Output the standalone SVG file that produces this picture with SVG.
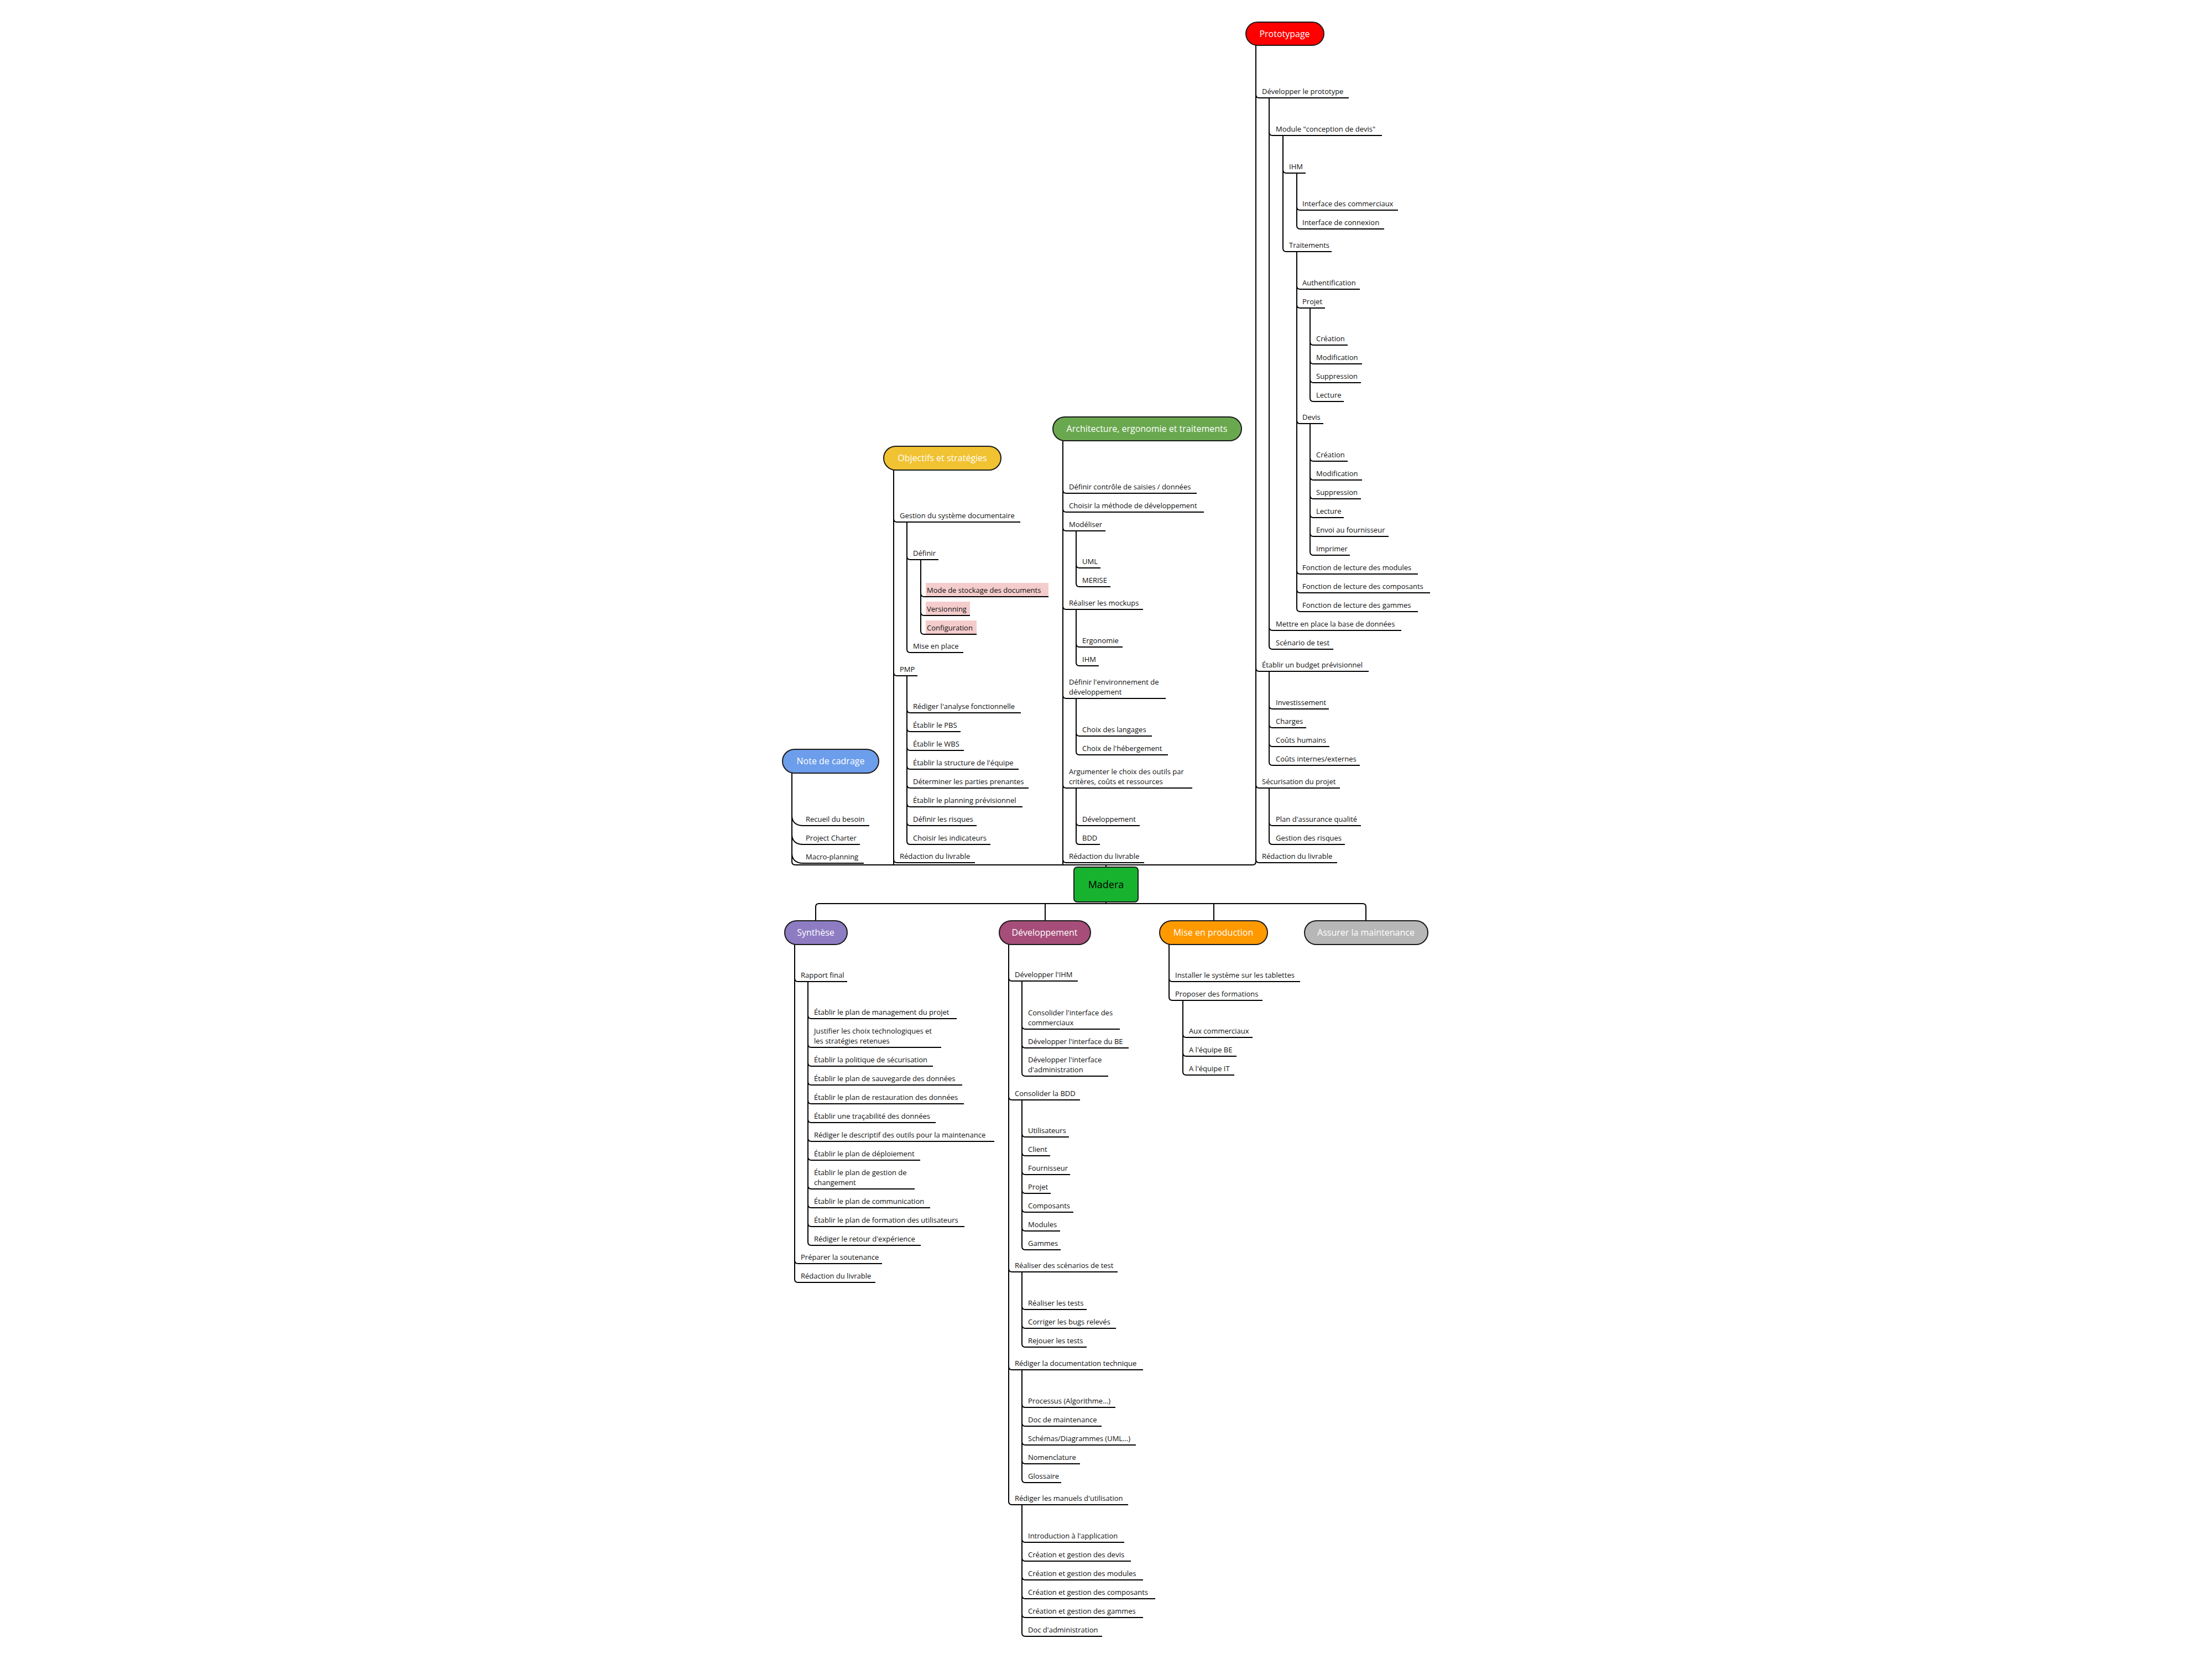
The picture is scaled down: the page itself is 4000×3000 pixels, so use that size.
<svg xmlns="http://www.w3.org/2000/svg" width="4000" height="3000" viewBox="0 0 4000 3000">
<style>
.c{fill:none;stroke:#000;stroke-width:2;stroke-linejoin:round}
.l text{font-family:"Open Sans","Noto Sans","DejaVu Sans",sans-serif;font-size:13px;fill:#111}
.l path{fill:none;stroke:#000;stroke-width:2.2}
.b rect{stroke:#1a1a1a;stroke-width:2}
.b text{font-family:"Open Sans","Noto Sans","DejaVu Sans",sans-serif;font-size:16px;fill:#fff;text-anchor:middle}
.hl{fill:#f4cccc}
</style>
<rect width="4000" height="3000" fill="#fff"/>
<g id="connectors" class="c">
<path d="M1432 1398V1558Q1432 1564 1438 1564H2265Q2271 1564 2271 1558V82M1616 850V1564M1922 797V1564M2000 1564V1568"/>
<path d="M2000 1631V1634M1475 1665V1640Q1475 1634 1481 1634H2464Q2470 1634 2470 1640V1665M1890 1634V1665M2195 1634V1665"/>
<path d="M2271 171Q2271 177 2277 177M2271 1208Q2271 1214 2277 1214M2271 1419Q2271 1425 2277 1425M2271 1554Q2271 1560 2277 1560"/>
<path d="M2295 177V1168Q2295 1174 2301 1174M2295 239Q2295 245 2301 245M2295 1134Q2295 1140 2301 1140"/>
<path d="M2320 245V449Q2320 455 2326 455M2320 307Q2320 313 2326 313"/>
<path d="M2345 313V408Q2345 414 2351 414M2345 374Q2345 380 2351 380"/>
<path d="M2345 455V1100Q2345 1106 2351 1106M2345 517Q2345 523 2351 523M2345 551Q2345 557 2351 557M2345 760Q2345 766 2351 766M2345 1032Q2345 1038 2351 1038M2345 1066Q2345 1072 2351 1072"/>
<path d="M2369 557V720Q2369 726 2375 726M2369 618Q2369 624 2375 624M2369 652Q2369 658 2375 658M2369 686Q2369 692 2375 692"/>
<path d="M2369 766V998Q2369 1004 2375 1004M2369 828Q2369 834 2375 834M2369 862Q2369 868 2375 868M2369 896Q2369 902 2375 902M2369 930Q2369 936 2375 936M2369 964Q2369 970 2375 970"/>
<path d="M2295 1214V1378Q2295 1384 2301 1384M2295 1276Q2295 1282 2301 1282M2295 1310Q2295 1316 2301 1316M2295 1344Q2295 1350 2301 1350"/>
<path d="M2295 1425V1521Q2295 1527 2301 1527M2295 1487Q2295 1493 2301 1493"/>
<path d="M1922 886Q1922 892 1928 892M1922 920Q1922 926 1928 926M1922 954Q1922 960 1928 960M1922 1096Q1922 1102 1928 1102M1922 1257Q1922 1263 1928 1263M1922 1419Q1922 1425 1928 1425M1922 1554Q1922 1560 1928 1560"/>
<path d="M1946 960V1055Q1946 1061 1952 1061M1946 1021Q1946 1027 1952 1027"/>
<path d="M1946 1102V1198Q1946 1204 1952 1204M1946 1164Q1946 1170 1952 1170"/>
<path d="M1946 1263V1359Q1946 1365 1952 1365M1946 1325Q1946 1331 1952 1331"/>
<path d="M1946 1425V1521Q1946 1527 1952 1527M1946 1487Q1946 1493 1952 1493"/>
<path d="M1616 938Q1616 944 1622 944M1616 1216Q1616 1222 1622 1222M1616 1554Q1616 1560 1622 1560"/>
<path d="M1640 944V1174Q1640 1180 1646 1180M1640 1006Q1640 1012 1646 1012"/>
<path d="M1665 1012V1141Q1665 1147 1671 1147M1665 1073Q1665 1079 1671 1079M1665 1107Q1665 1113 1671 1113"/>
<path d="M1640 1222V1521Q1640 1527 1646 1527M1640 1283Q1640 1289 1646 1289M1640 1317Q1640 1323 1646 1323M1640 1351Q1640 1357 1646 1357M1640 1385Q1640 1391 1646 1391M1640 1419Q1640 1425 1646 1425M1640 1453Q1640 1459 1646 1459M1640 1487Q1640 1493 1646 1493"/>
<path d="M1432 1475C1432 1487 1440 1493 1452 1493M1432 1509C1432 1521 1440 1527 1452 1527M1432 1543C1432 1555 1440 1561 1452 1561"/>
<path d="M1437 1708V2313Q1437 2319 1443 2319M1437 1769Q1437 1775 1443 1775M1437 2279Q1437 2285 1443 2285"/>
<path d="M1461 1775V2246Q1461 2252 1467 2252M1461 1836Q1461 1842 1467 1842M1461 1888Q1461 1894 1467 1894M1461 1922Q1461 1928 1467 1928M1461 1956Q1461 1962 1467 1962M1461 1990Q1461 1996 1467 1996M1461 2024Q1461 2030 1467 2030M1461 2058Q1461 2064 1467 2064M1461 2092Q1461 2098 1467 2098M1461 2144Q1461 2150 1467 2150M1461 2178Q1461 2184 1467 2184M1461 2212Q1461 2218 1467 2218"/>
<path d="M1824 1708V2715Q1824 2721 1830 2721M1824 1768Q1824 1774 1830 1774M1824 1983Q1824 1989 1830 1989M1824 2294Q1824 2300 1830 2300M1824 2471Q1824 2477 1830 2477"/>
<path d="M1848 1774V1940Q1848 1946 1854 1946M1848 1855Q1848 1861 1854 1861M1848 1889Q1848 1895 1854 1895"/>
<path d="M1848 1989V2254Q1848 2260 1854 2260M1848 2050Q1848 2056 1854 2056M1848 2084Q1848 2090 1854 2090M1848 2118Q1848 2124 1854 2124M1848 2152Q1848 2158 1854 2158M1848 2186Q1848 2192 1854 2192M1848 2220Q1848 2226 1854 2226"/>
<path d="M1848 2300V2430Q1848 2436 1854 2436M1848 2362Q1848 2368 1854 2368M1848 2396Q1848 2402 1854 2402"/>
<path d="M1848 2477V2675Q1848 2681 1854 2681M1848 2539Q1848 2545 1854 2545M1848 2573Q1848 2579 1854 2579M1848 2607Q1848 2613 1854 2613M1848 2641Q1848 2647 1854 2647"/>
<path d="M1848 2721V2953Q1848 2959 1854 2959M1848 2783Q1848 2789 1854 2789M1848 2817Q1848 2823 1854 2823M1848 2851Q1848 2857 1854 2857M1848 2885Q1848 2891 1854 2891M1848 2919Q1848 2925 1854 2925"/>
<path d="M2114 1708V1803Q2114 1809 2120 1809M2114 1769Q2114 1775 2120 1775"/>
<path d="M2139 1809V1938Q2139 1944 2145 1944M2139 1870Q2139 1876 2145 1876M2139 1904Q2139 1910 2145 1910"/>
</g>
<g id="madera" class="b"><rect x="1942" y="1568" width="116" height="63" rx="6" fill="#17b32f"/><text x="2000" y="1606" style="fill:#000;font-size:18px">Madera</text></g>
<g id="prototypage" class="b"><rect x="2253" y="40" width="141" height="42" rx="21" fill="#ff0000"/><text x="2323" y="67">Prototypage</text></g>
<g id="architecture" class="b"><rect x="1904" y="754" width="341" height="43" rx="21.5" fill="#6aa84f"/><text x="2074" y="781">Architecture, ergonomie et traitements</text></g>
<g id="objectifs" class="b"><rect x="1598" y="807" width="212" height="43" rx="21.5" fill="#f1c232"/><text x="1704" y="834">Objectifs et stratégies</text></g>
<g id="note" class="b"><rect x="1415" y="1355" width="174" height="43" rx="21.5" fill="#6d9eeb"/><text x="1502" y="1382">Note de cadrage</text></g>
<g id="synthese" class="b"><rect x="1419" y="1665" width="113" height="43" rx="21.5" fill="#8e7cc3"/><text x="1475" y="1692">Synthèse</text></g>
<g id="developpement" class="b"><rect x="1807" y="1665" width="165" height="43" rx="21.5" fill="#a64d79"/><text x="1889" y="1692">Développement</text></g>
<g id="production" class="b"><rect x="2097" y="1665" width="195" height="43" rx="21.5" fill="#ff9900"/><text x="2194" y="1692">Mise en production</text></g>
<g id="maintenance" class="b"><rect x="2359" y="1665" width="223" height="43" rx="21.5" fill="#b7b7b7"/><text x="2470" y="1692">Assurer la maintenance</text></g>

<g id="p1" class="l"><text x="2282" y="170">Développer le prototype</text><path d="M2277 177H2439"/></g>
<g id="p2" class="l"><text x="2307" y="238">Module "conception de devis"</text><path d="M2301 245H2499"/></g>
<g id="p3" class="l"><text x="2331" y="306">IHM</text><path d="M2326 313H2361"/></g>
<g id="p4" class="l"><text x="2355" y="373">Interface des commerciaux</text><path d="M2351 380H2528"/></g>
<g id="p5" class="l"><text x="2355" y="407">Interface de connexion</text><path d="M2351 414H2503"/></g>
<g id="p6" class="l"><text x="2331" y="448">Traitements</text><path d="M2326 455H2408"/></g>
<g id="p7" class="l"><text x="2355" y="516">Authentification</text><path d="M2351 523H2459"/></g>
<g id="p8" class="l"><text x="2355" y="550">Projet</text><path d="M2351 557H2396"/></g>
<g id="p9" class="l"><text x="2380" y="617">Création</text><path d="M2375 624H2437"/></g>
<g id="p10" class="l"><text x="2380" y="651">Modification</text><path d="M2375 658H2463"/></g>
<g id="p11" class="l"><text x="2380" y="685">Suppression</text><path d="M2375 692H2461"/></g>
<g id="p12" class="l"><text x="2380" y="719">Lecture</text><path d="M2375 726H2430"/></g>
<g id="p13" class="l"><text x="2355" y="759">Devis</text><path d="M2351 766H2393"/></g>
<g id="p14" class="l"><text x="2380" y="827">Création</text><path d="M2375 834H2437"/></g>
<g id="p15" class="l"><text x="2380" y="861">Modification</text><path d="M2375 868H2463"/></g>
<g id="p16" class="l"><text x="2380" y="895">Suppression</text><path d="M2375 902H2461"/></g>
<g id="p17" class="l"><text x="2380" y="929">Lecture</text><path d="M2375 936H2430"/></g>
<g id="p18" class="l"><text x="2380" y="963">Envoi au fournisseur</text><path d="M2375 970H2511"/></g>
<g id="p19" class="l"><text x="2380" y="997">Imprimer</text><path d="M2375 1004H2441"/></g>
<g id="p20" class="l"><text x="2355" y="1031">Fonction de lecture des modules</text><path d="M2351 1038H2564"/></g>
<g id="p21" class="l"><text x="2355" y="1065">Fonction de lecture des composants</text><path d="M2351 1072H2586"/></g>
<g id="p22" class="l"><text x="2355" y="1099">Fonction de lecture des gammes</text><path d="M2351 1106H2564"/></g>
<g id="p23" class="l"><text x="2307" y="1133">Mettre en place la base de données</text><path d="M2301 1140H2534"/></g>
<g id="p24" class="l"><text x="2307" y="1167">Scénario de test</text><path d="M2301 1174H2411"/></g>
<g id="p25" class="l"><text x="2282" y="1207">Établir un budget prévisionnel</text><path d="M2277 1214H2475"/></g>
<g id="p26" class="l"><text x="2307" y="1275">Investissement</text><path d="M2301 1282H2403"/></g>
<g id="p27" class="l"><text x="2307" y="1309">Charges</text><path d="M2301 1316H2362"/></g>
<g id="p28" class="l"><text x="2307" y="1343">Coûts humains</text><path d="M2301 1350H2404"/></g>
<g id="p29" class="l"><text x="2307" y="1377">Coûts internes/externes</text><path d="M2301 1384H2459"/></g>
<g id="p30" class="l"><text x="2282" y="1418">Sécurisation du projet</text><path d="M2277 1425H2423"/></g>
<g id="p31" class="l"><text x="2307" y="1486">Plan d'assurance qualité</text><path d="M2301 1493H2461"/></g>
<g id="p32" class="l"><text x="2307" y="1520">Gestion des risques</text><path d="M2301 1527H2432"/></g>
<g id="p33" class="l"><text x="2282" y="1553">Rédaction du livrable</text><path d="M2277 1560H2418"/></g>

<g id="a1" class="l"><text x="1933" y="885">Définir contrôle de saisies / données</text><path d="M1928 892H2164"/></g>
<g id="a2" class="l"><text x="1933" y="919">Choisir la méthode de développement</text><path d="M1928 926H2177"/></g>
<g id="a3" class="l"><text x="1933" y="953">Modéliser</text><path d="M1928 960H1999"/></g>
<g id="a4" class="l"><text x="1957" y="1020">UML</text><path d="M1952 1027H1990"/></g>
<g id="a5" class="l"><text x="1957" y="1054">MERISE</text><path d="M1952 1061H2008"/></g>
<g id="a6" class="l"><text x="1933" y="1095">Réaliser les mockups</text><path d="M1928 1102H2067"/></g>
<g id="a7" class="l"><text x="1957" y="1163">Ergonomie</text><path d="M1952 1170H2030"/></g>
<g id="a8" class="l"><text x="1957" y="1197">IHM</text><path d="M1952 1204H1987"/></g>
<g id="a9" class="l"><text x="1933" y="1238">Définir l'environnement de<tspan x="1933" dy="18">développement</tspan></text><path d="M1928 1263H2108"/></g>
<g id="a10" class="l"><text x="1957" y="1324">Choix des langages</text><path d="M1952 1331H2083"/></g>
<g id="a11" class="l"><text x="1957" y="1358">Choix de l'hébergement</text><path d="M1952 1365H2112"/></g>
<g id="a12" class="l"><text x="1933" y="1400">Argumenter le choix des outils par<tspan x="1933" dy="18">critères, coûts et ressources</tspan></text><path d="M1928 1425H2156"/></g>
<g id="a13" class="l"><text x="1957" y="1486">Développement</text><path d="M1952 1493H2061"/></g>
<g id="a14" class="l"><text x="1957" y="1520">BDD</text><path d="M1952 1527H1989"/></g>
<g id="a15" class="l"><text x="1933" y="1553">Rédaction du livrable</text><path d="M1928 1560H2069"/></g>

<g id="o1" class="l"><text x="1627" y="937">Gestion du système documentaire</text><path d="M1622 944H1845"/></g>
<g id="o2" class="l"><text x="1651" y="1005">Définir</text><path d="M1646 1012H1697"/></g>
<g id="o3" class="l"><rect class="hl" x="1674" y="1054" width="222" height="24"/><text x="1676" y="1072">Mode de stockage des documents</text><path d="M1671 1079H1896"/></g>
<g id="o4" class="l"><rect class="hl" x="1674" y="1088" width="80" height="24"/><text x="1676" y="1106">Versionning</text><path d="M1671 1113H1754"/></g>
<g id="o5" class="l"><rect class="hl" x="1674" y="1122" width="92" height="24"/><text x="1676" y="1140">Configuration</text><path d="M1671 1147H1766"/></g>
<g id="o6" class="l"><text x="1651" y="1173">Mise en place</text><path d="M1646 1180H1742"/></g>
<g id="o7" class="l"><text x="1627" y="1215">PMP</text><path d="M1622 1222H1659"/></g>
<g id="o8" class="l"><text x="1651" y="1282">Rédiger l'analyse fonctionnelle</text><path d="M1646 1289H1846"/></g>
<g id="o9" class="l"><text x="1651" y="1316">Établir le PBS</text><path d="M1646 1323H1737"/></g>
<g id="o10" class="l"><text x="1651" y="1350">Établir le WBS</text><path d="M1646 1357H1743"/></g>
<g id="o11" class="l"><text x="1651" y="1384">Établir la structure de l'équipe</text><path d="M1646 1391H1842"/></g>
<g id="o12" class="l"><text x="1651" y="1418">Déterminer les parties prenantes</text><path d="M1646 1425H1860"/></g>
<g id="o13" class="l"><text x="1651" y="1452">Établir le planning prévisionnel</text><path d="M1646 1459H1849"/></g>
<g id="o14" class="l"><text x="1651" y="1486">Définir les risques</text><path d="M1646 1493H1766"/></g>
<g id="o15" class="l"><text x="1651" y="1520">Choisir les indicateurs</text><path d="M1646 1527H1791"/></g>
<g id="o16" class="l"><text x="1627" y="1553">Rédaction du livrable</text><path d="M1622 1560H1763"/></g>

<g id="n1" class="l"><text x="1457" y="1486">Recueil du besoin</text><path d="M1452 1493H1572"/></g>
<g id="n2" class="l"><text x="1457" y="1520">Project Charter</text><path d="M1452 1527H1555"/></g>
<g id="n3" class="l"><text x="1457" y="1554">Macro-planning</text><path d="M1452 1561H1562"/></g>

<g id="s1" class="l"><text x="1448" y="1768">Rapport final</text><path d="M1443 1775H1532"/></g>
<g id="s2" class="l"><text x="1472" y="1835">Établir le plan de management du projet</text><path d="M1467 1842H1730"/></g>
<g id="s3" class="l"><text x="1472" y="1869">Justifier les choix technologiques et<tspan x="1472" dy="18">les stratégies retenues</tspan></text><path d="M1467 1894H1702"/></g>
<g id="s4" class="l"><text x="1472" y="1921">Établir la politique de sécurisation</text><path d="M1467 1928H1687"/></g>
<g id="s5" class="l"><text x="1472" y="1955">Établir le plan de sauvegarde des données</text><path d="M1467 1962H1740"/></g>
<g id="s6" class="l"><text x="1472" y="1989">Établir le plan de restauration des données</text><path d="M1467 1996H1743"/></g>
<g id="s7" class="l"><text x="1472" y="2023">Établir une traçabilité des données</text><path d="M1467 2030H1692"/></g>
<g id="s8" class="l"><text x="1472" y="2057">Rédiger le descriptif des outils pour la maintenance</text><path d="M1467 2064H1798"/></g>
<g id="s9" class="l"><text x="1472" y="2091">Établir le plan de déploiement</text><path d="M1467 2098H1664"/></g>
<g id="s10" class="l"><text x="1472" y="2125">Établir le plan de gestion de<tspan x="1472" dy="18">changement</tspan></text><path d="M1467 2150H1654"/></g>
<g id="s11" class="l"><text x="1472" y="2177">Établir le plan de communication</text><path d="M1467 2184H1682"/></g>
<g id="s12" class="l"><text x="1472" y="2211">Établir le plan de formation des utilisateurs</text><path d="M1467 2218H1744"/></g>
<g id="s13" class="l"><text x="1472" y="2245">Rédiger le retour d'expérience</text><path d="M1467 2252H1665"/></g>
<g id="s14" class="l"><text x="1448" y="2278">Préparer la soutenance</text><path d="M1443 2285H1595"/></g>
<g id="s15" class="l"><text x="1448" y="2312">Rédaction du livrable</text><path d="M1443 2319H1583"/></g>

<g id="d1" class="l"><text x="1835" y="1767">Développer l'IHM</text><path d="M1830 1774H1949"/></g>
<g id="d2" class="l"><text x="1859" y="1836">Consolider l'interface des<tspan x="1859" dy="18">commerciaux</tspan></text><path d="M1854 1861H2025"/></g>
<g id="d3" class="l"><text x="1859" y="1888">Développer l'interface du BE</text><path d="M1854 1895H2041"/></g>
<g id="d4" class="l"><text x="1859" y="1921">Développer l'interface<tspan x="1859" dy="18">d'administration</tspan></text><path d="M1854 1946H2004"/></g>
<g id="d5" class="l"><text x="1835" y="1982">Consolider la BDD</text><path d="M1830 1989H1953"/></g>
<g id="d6" class="l"><text x="1859" y="2049">Utilisateurs</text><path d="M1854 2056H1933"/></g>
<g id="d7" class="l"><text x="1859" y="2083">Client</text><path d="M1854 2090H1899"/></g>
<g id="d8" class="l"><text x="1859" y="2117">Fournisseur</text><path d="M1854 2124H1935"/></g>
<g id="d9" class="l"><text x="1859" y="2151">Projet</text><path d="M1854 2158H1900"/></g>
<g id="d10" class="l"><text x="1859" y="2185">Composants</text><path d="M1854 2192H1941"/></g>
<g id="d11" class="l"><text x="1859" y="2219">Modules</text><path d="M1854 2226H1917"/></g>
<g id="d12" class="l"><text x="1859" y="2253">Gammes</text><path d="M1854 2260H1918"/></g>
<g id="d13" class="l"><text x="1835" y="2293">Réaliser des scénarios de test</text><path d="M1830 2300H2021"/></g>
<g id="d14" class="l"><text x="1859" y="2361">Réaliser les tests</text><path d="M1854 2368H1965"/></g>
<g id="d15" class="l"><text x="1859" y="2395">Corriger les bugs relevés</text><path d="M1854 2402H2018"/></g>
<g id="d16" class="l"><text x="1859" y="2429">Rejouer les tests</text><path d="M1854 2436H1965"/></g>
<g id="d17" class="l"><text x="1835" y="2470">Rédiger la documentation technique</text><path d="M1830 2477H2067"/></g>
<g id="d18" class="l"><text x="1859" y="2538">Processus (Algorithme…)</text><path d="M1854 2545H2017"/></g>
<g id="d19" class="l"><text x="1859" y="2572">Doc de maintenance</text><path d="M1854 2579H1992"/></g>
<g id="d20" class="l"><text x="1859" y="2606">Schémas/Diagrammes (UML…)</text><path d="M1854 2613H2054"/></g>
<g id="d21" class="l"><text x="1859" y="2640">Nomenclature</text><path d="M1854 2647H1953"/></g>
<g id="d22" class="l"><text x="1859" y="2674">Glossaire</text><path d="M1854 2681H1919"/></g>
<g id="d23" class="l"><text x="1835" y="2714">Rédiger les manuels d'utilisation</text><path d="M1830 2721H2040"/></g>
<g id="d24" class="l"><text x="1859" y="2782">Introduction à l'application</text><path d="M1854 2789H2033"/></g>
<g id="d25" class="l"><text x="1859" y="2816">Création et gestion des devis</text><path d="M1854 2823H2045"/></g>
<g id="d26" class="l"><text x="1859" y="2850">Création et gestion des modules</text><path d="M1854 2857H2067"/></g>
<g id="d27" class="l"><text x="1859" y="2884">Création et gestion des composants</text><path d="M1854 2891H2089"/></g>
<g id="d28" class="l"><text x="1859" y="2918">Création et gestion des gammes</text><path d="M1854 2925H2067"/></g>
<g id="d29" class="l"><text x="1859" y="2952">Doc d'administration</text><path d="M1854 2959H1993"/></g>

<g id="m1" class="l"><text x="2125" y="1768">Installer le système sur les tablettes</text><path d="M2120 1775H2351"/></g>
<g id="m2" class="l"><text x="2125" y="1802">Proposer des formations</text><path d="M2120 1809H2283"/></g>
<g id="m3" class="l"><text x="2150" y="1869">Aux commerciaux</text><path d="M2145 1876H2265"/></g>
<g id="m4" class="l"><text x="2150" y="1903">A l'équipe BE</text><path d="M2145 1910H2236"/></g>
<g id="m5" class="l"><text x="2150" y="1937">A l'équipe IT</text><path d="M2145 1944H2232"/></g>
</svg>
